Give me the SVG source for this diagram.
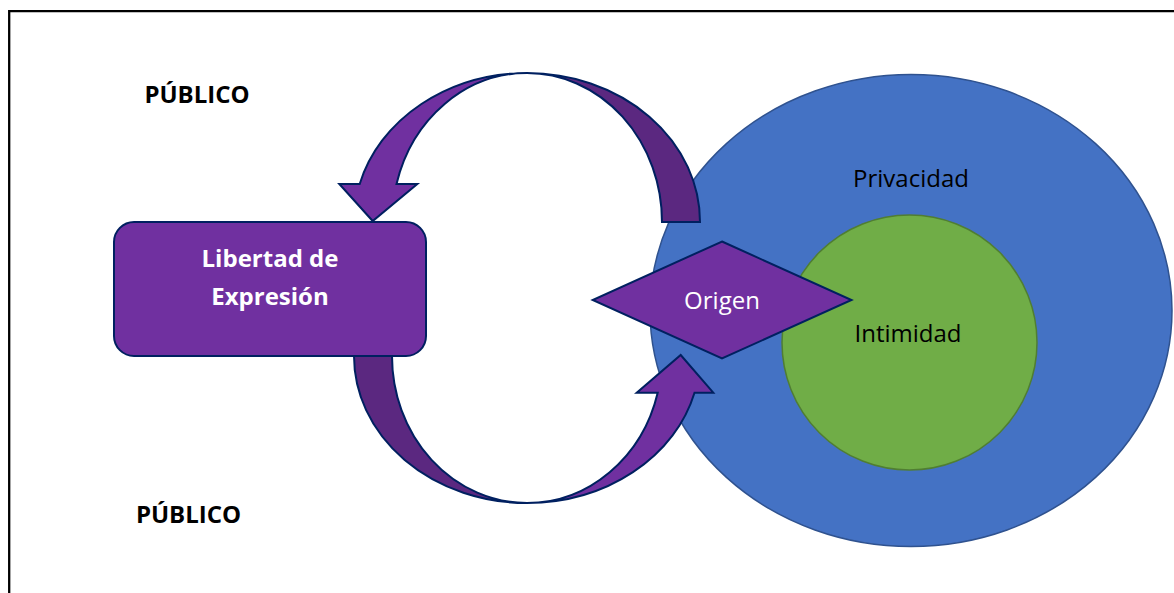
<svg xmlns="http://www.w3.org/2000/svg" width="1174" height="593" viewBox="0 0 1174 593">
  <defs>
    <style>
      .frame { fill: none; stroke: #000; stroke-width: 2.3; }
      .label-bold { font-family: "Open Sans", "Liberation Sans", sans-serif; font-weight: 700; font-size: 24px; }
      .label { font-family: "Open Sans", "Liberation Sans", sans-serif; font-weight: 400; font-size: 24px; }
      .purple { fill: #7030A0; stroke: #002060; stroke-width: 2; stroke-linejoin: miter; }
      .purple-dark { fill: #5B2880; stroke: #002060; stroke-width: 2; stroke-linejoin: miter; }
    </style>
  </defs>

  <rect width="1174" height="593" fill="#fff"/>

  <!-- page frame (top and left edges) -->
  <path class="frame" d="M9.2,600 V11.2 H1180"/>

  <!-- side labels -->
  <text class="label-bold" x="197" y="103" text-anchor="middle" fill="#000">PÚBLICO</text>
  <text class="label-bold" x="188.5" y="523" text-anchor="middle" fill="#000">PÚBLICO</text>

  <!-- outer sphere: privacy -->
  <g id="privacidad">
    <ellipse cx="911" cy="310.5" rx="261" ry="236" fill="#4472C4" stroke="#2F528F" stroke-width="1.5"/>
    <text class="label" x="911" y="187.3" text-anchor="middle" fill="#000">Privacidad</text>
  </g>

  <!-- inner sphere: intimacy -->
  <g id="intimidad">
    <circle cx="909.5" cy="342.5" r="127.5" fill="#70AD47" stroke="#507E32" stroke-width="1.5"/>
    <text class="label" x="908" y="342.3" text-anchor="middle" fill="#000">Intimidad</text>
  </g>

  <!-- curved arrows linking the two -->
  <g id="connectors">
    <!-- upper arc: from origin back to freedom of expression -->
    <path class="purple-dark" d="M700,222 A173,149 0 0 0 527,73 A135,149 0 0 1 662,222 Z"/>
    <path class="purple" d="M527,73 A173,149 0 0 0 359.7,184 L339.3,184 L372.7,221 L417.3,184 L396.5,184 A135,149 0 0 1 527,73 Z"/>
    <!-- lower arc: from freedom of expression to origin -->
    <path class="purple-dark" d="M354,350 L354,356 A173,147 0 0 0 527,503 A135,147 0 0 1 392,356 L392,350 Z"/>
    <path class="purple" d="M527,503 A173,147 0 0 0 694.5,392.7 L713.3,392.7 L680.7,355 L636.7,392.7 L657.7,392.7 A135,147 0 0 1 527,503 Z"/>
  </g>

  <g id="libertad-expresion">
    <rect x="114" y="222" width="312" height="134" rx="20" ry="20" fill="#7030A0" stroke="#002060" stroke-width="2"/>
    <text class="label-bold" x="270" y="267" text-anchor="middle" fill="#fff">Libertad de</text>
    <text class="label-bold" x="270" y="305" text-anchor="middle" fill="#fff">Expresión</text>
  </g>

  <g id="origen">
    <polygon points="722,241.5 851.5,300 722,358.5 592.7,300" fill="#7030A0" stroke="#002060" stroke-width="2"/>
    <text class="label" x="722" y="309" text-anchor="middle" fill="#fff">Origen</text>
  </g>
</svg>
